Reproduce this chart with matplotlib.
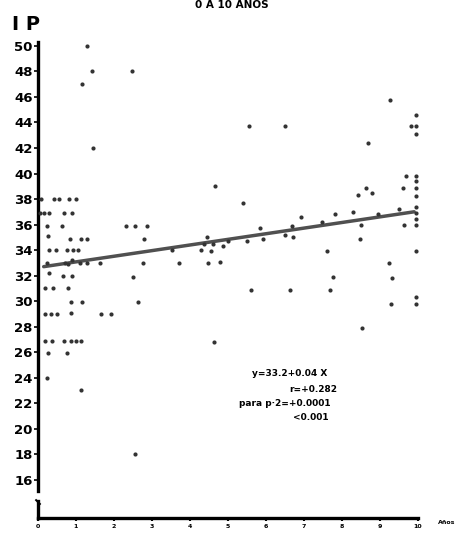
import matplotlib
matplotlib.use("Agg")
import matplotlib.pyplot as plt
import numpy as np

# edad (años) e IP
edad = [0.08, 0.42, 0.55, 0.82, 1.0,
        0.05, 0.17, 0.3, 0.68, 0.9,
        0.23, 0.63, 0.25,
        0.84, 1.13, 1.3,
        0.3, 0.47, 0.76, 0.93, 1.06,
        0.23, 0.7, 0.8, 0.9, 1.1, 1.28, 1.63,
        0.3, 0.67, 0.9,
        0.18, 0.4, 0.8,
        0.87, 1.15,
        0.18, 0.35, 0.5, 0.87, 1.65, 1.92,
        0.18, 0.38, 0.69, 0.87, 1.0, 1.13,
        0.25, 0.75,
        0.23, 1.13, 2.55,
        1.28, 1.43, 2.47, 1.15, 1.46,
        2.31, 2.55, 2.86, 2.79, 2.77, 2.51, 2.64, 3.52, 3.71, 4.66,
        4.46, 4.38, 4.61, 4.86, 5.01, 4.28, 4.55, 4.48, 4.79, 4.64,
        5.39, 5.51, 5.84, 5.93, 5.6, 6.5, 6.63, 6.69, 6.72, 6.92,
        7.47, 7.61, 7.68, 7.75, 7.82, 8.3, 8.41, 8.5, 8.47, 8.52,
        8.63, 8.78, 8.69, 8.96, 9.24, 9.26, 9.28, 9.31, 9.51, 9.61,
        9.63, 9.68, 9.81, 5.56, 6.51,
        9.95, 9.95, 9.95, 9.95, 9.95, 9.95, 9.95,
        9.95, 9.95, 9.95, 9.95, 9.95, 9.95, 9.95]
ip = [38, 38, 38, 38, 38,
      36.9, 36.9, 36.9, 36.9, 36.9,
      35.9, 35.9, 35.1,
      34.9, 34.9, 34.9,
      34.0, 34.0, 34.0, 34.0, 34.0,
      33.0, 33.0, 32.9, 33.2, 33.0, 33.0, 33.0,
      32.2, 32.0, 32.0,
      31.0, 31.0, 31.0,
      29.9, 29.9,
      29.0, 29.0, 29.0, 29.1, 29.0, 29.0,
      26.9, 26.9, 26.9, 26.9, 26.9, 26.9,
      25.9, 25.9,
      24.0, 23.0, 18.0,
      50, 48, 48, 47, 42,
      35.9, 35.9, 35.9, 34.9, 33.0, 31.9, 29.9, 34.0, 33.0, 39.0,
      35.0, 34.5, 34.5, 34.35, 34.7, 34.0, 33.95, 33.0, 33.05, 26.8,
      37.7, 34.7, 35.7, 34.9, 30.85, 35.2, 30.9, 35.9, 35.0, 36.6,
      36.2, 33.9, 30.85, 31.9, 36.8, 37.0, 38.3, 36.0, 34.9, 27.9,
      38.9, 38.5, 42.4, 36.8, 33.0, 45.8, 29.8, 31.8, 37.25, 38.85,
      35.95, 39.8, 43.7, 43.75, 43.75,
      44.6, 43.7, 43.1, 39.8, 39.4, 38.85, 38.25,
      37.4, 36.9, 36.4, 35.95, 33.9, 30.3, 29.8]

# recta de regresion (extremos)
recta_x = [0.15, 9.9]
recta_y = [32.7, 37.0]

yticks = list(range(16, 51, 2))
xticks = list(range(0, 11))

fig = plt.figure(figsize=(4.62, 5.36), dpi=100)
ax = fig.add_axes([38 / 462, 18 / 536, 418 / 462, 518 / 536])
ax.set_xlim(0, 11)
ax.set_ylim(13.0, 53.6)

ax.plot(recta_x, recta_y, color='#505050', lw=2.5, solid_capstyle='round', zorder=2)
ax.plot(edad, ip, 'o', color='#333333', ms=3.0, mew=0, zorder=3)

for s in ['top', 'right']:
    ax.spines[s].set_visible(False)
ax.spines['left'].set_linewidth(2.4)
ax.spines['bottom'].set_linewidth(2.4)
ax.spines['left'].set_bounds(15.1, 50.3)
ax.spines['bottom'].set_bounds(0, 10)
# corte del eje y
ax.plot([0, 0], [13.0, 14.3], color='black', lw=2.4, clip_on=False)
ax.plot([-0.05, 0.05], [14.4, 14.1], color='black', lw=1.4, clip_on=False)

ax.set_yticks(yticks)
ax.set_yticklabels([str(v) for v in yticks], fontsize=9.5, fontweight='bold')
ax.set_xticks(xticks)
ax.set_xticklabels([str(v) for v in xticks], fontsize=4.5, fontweight='bold')
ax.tick_params(axis='y', length=3, width=1.2, pad=1)
ax.tick_params(axis='x', length=2, width=1.5, pad=2)

fig.text(12 / 462, 1 - 25 / 536, 'I P', fontsize=14, fontweight='bold', va='center')
fig.text(232 / 462, 1.0, '0 A 10 AÑOS', fontsize=7.5, fontweight='bold',
         ha='center', va='top')
fig.text(438 / 462, 1 - 523 / 536, 'Años', fontsize=4.5, fontweight='bold', va='center')

ax.text(5.62, 24.1, 'y=33.2+0.04 X', fontsize=6.5, fontweight='bold')
ax.text(6.62, 22.9, 'r=+0.282', fontsize=6.5, fontweight='bold')
ax.text(5.3, 21.8, 'para p·2=+0.0001', fontsize=6.5, fontweight='bold')
ax.text(6.71, 20.7, '<0.001', fontsize=6.5, fontweight='bold')

fig.savefig('out.png', dpi=100)
